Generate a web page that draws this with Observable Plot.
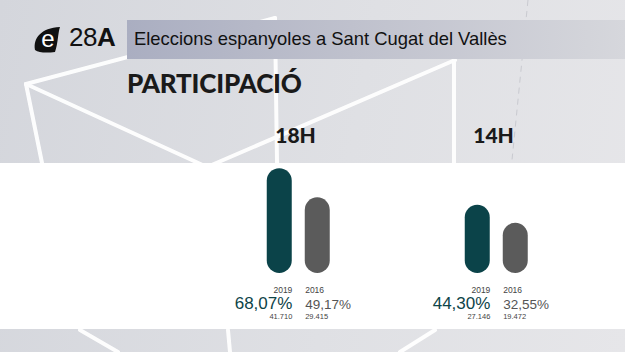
<!DOCTYPE html>
<html>
<head>
<meta charset="utf-8">
<script src="https://cdn.jsdelivr.net/npm/d3@7"></script>
<script src="https://cdn.jsdelivr.net/npm/@observablehq/plot@0.6"></script>
<style>
  html, body { margin: 0; padding: 0; }
  #stage { position: relative; width: 625px; height: 352px; overflow: hidden;
    background: linear-gradient(100deg, #d4d6dc 0%, #dfe0e4 55%, #e6e6e9 100%);
    font-family: "Liberation Sans", Arial, sans-serif; }
  #deco { position: absolute; left: 0; top: 0; }
  #band { position: absolute; left: 127px; top: 20px; width: 498px; height: 39px;
    background: linear-gradient(90deg, #aaaec1 0%, #bfc1cd 45%, #d6d7dc 100%); }
  #band span { position: absolute; left: 7px; top: 8px; font-size: 18.4px; color: #111; white-space: nowrap; }
  #logo { position: absolute; left: 33px; top: 24px; }
  #num { position: absolute; left: 69px; top: 22px; font-size: 26px; color: #111; letter-spacing: -0.5px; }
  #num b { font-weight: 700; }
  #title { position: absolute; left: 127px; top: 67px; font-family: Lato, "Open Sans", sans-serif;
    font-weight: 900; font-size: 26px; color: #1a1a1a; letter-spacing: -0.2px; }
  #panel { position: absolute; left: 0; top: 163px; width: 625px; height: 166px; background: #fff; }
  #chart { position: absolute; left: 0; top: 110px; }
</style>
</head>
<body>
<div id="stage">
  <svg id="deco" width="625" height="352">
    <g stroke="#ffffff" stroke-width="4" fill="none" stroke-linecap="round" opacity="0.95">
      <line x1="26" y1="84" x2="275" y2="18"/>
      <line x1="26" y1="84" x2="42" y2="163"/>
      <line x1="26" y1="84" x2="207" y2="167"/>
      <line x1="207" y1="167" x2="455" y2="60"/>
      <line x1="275" y1="18" x2="277" y2="163"/>
      <line x1="454" y1="60" x2="454" y2="163"/>
      <line x1="80" y1="330" x2="118" y2="352"/>
      <line x1="228" y1="330" x2="230" y2="352"/>
      <line x1="435" y1="330" x2="400" y2="352"/>
    </g>
    <path d="M528 0 C 520 80, 512 160, 508 200" stroke="#c9cad0" stroke-width="1" stroke-dasharray="6 5" fill="none"/>
  </svg>
  <div id="band"><span>Eleccions espanyoles a Sant Cugat del Vallès</span></div>
  <svg id="logo" width="30" height="30" viewBox="0 0 30 30">
    <path d="M2 26 C 0 14, 8 4, 27 3 C 25 8, 25 20, 22 28 C 14 29, 6 29, 2 26 Z" fill="#111"/>
    <text x="15" y="23" text-anchor="middle" font-family="Liberation Sans, Arial" font-size="24" fill="#fff">e</text>
  </svg>
  <div id="num">28<b>A</b></div>
  <div id="title">PARTICIPACIÓ</div>
  <div id="panel"></div>
  <div id="chart"></div>
</div>
<script>
// Data
const hours = ["18H", "14H"];
const years = ["2019", "2016"];
const pct18H = [68.07, 49.17];
const pct14H = [44.30, 32.55];
const pctLabels18H = ["68,07%", "49,17%"];
const pctLabels14H = ["44,30%", "32,55%"];
const votes18H = ["41.710", "29.415"];
const votes14H = ["27.146", "19.472"];

const colors = {"2019": "#0b4349", "2016": "#5b5b5b"};

const rows = [];
[[hours[0], pct18H, pctLabels18H, votes18H], [hours[1], pct14H, pctLabels14H, votes14H]].forEach(([h, p, l, v]) => {
  years.forEach((y, i) => rows.push({hour: h, year: y, pct: p[i], label: l[i], votes: v[i]}));
});
const r2019 = rows.filter(d => d.year === "2019");
const r2016 = rows.filter(d => d.year === "2016");
const half = 12.6;

const chart = Plot.plot({
  width: 625,
  height: 230,
  marginLeft: 198.25,
  marginRight: 29.75,
  marginTop: 39.8,
  marginBottom: 67,
  fx: {domain: hours, paddingInner: 0, paddingOuter: 0, axis: null},
  x: {domain: years, paddingInner: 0.342, paddingOuter: 1.766, axis: null},
  y: {domain: [0, 80], axis: null},
  style: {background: "transparent", fontFamily: "'Liberation Sans', Arial, sans-serif"},
  marks: [
    Plot.text(hours, {fx: d => d, text: d => d, frameAnchor: "top", lineAnchor: "bottom", dy: -7, dx: -3,
      fontSize: 21, fontWeight: 900, fontFamily: "Lato, 'Open Sans', sans-serif", fill: "#1a1a1a"}),
    Plot.barY(rows, {fx: "hour", x: "year", y: "pct", fill: d => colors[d.year], rx: half}),
    // year labels
    Plot.text(r2019, {fx: "hour", x: "year", y: 0, text: "year", textAnchor: "end", dx: half, dy: 17, fontSize: 8.5, fill: "#444"}),
    Plot.text(r2016, {fx: "hour", x: "year", y: 0, text: "year", textAnchor: "start", dx: -half, dy: 17, fontSize: 8.5, fill: "#444"}),
    // percentages
    Plot.text(r2019, {fx: "hour", x: "year", y: 0, text: "label", textAnchor: "end", dx: half, dy: 30, fontSize: 17, fill: "#0d4448"}),
    Plot.text(r2016, {fx: "hour", x: "year", y: 0, text: "label", textAnchor: "start", dx: -half, dy: 31, fontSize: 13.5, fill: "#555"}),
    // votes
    Plot.text(r2019, {fx: "hour", x: "year", y: 0, text: "votes", textAnchor: "end", dx: half, dy: 43, fontSize: 7.5, fill: "#444"}),
    Plot.text(r2016, {fx: "hour", x: "year", y: 0, text: "votes", textAnchor: "start", dx: -half, dy: 43, fontSize: 7.5, fill: "#444"})
  ]
});
document.getElementById("chart").appendChild(chart);
</script>
</body>
</html>
